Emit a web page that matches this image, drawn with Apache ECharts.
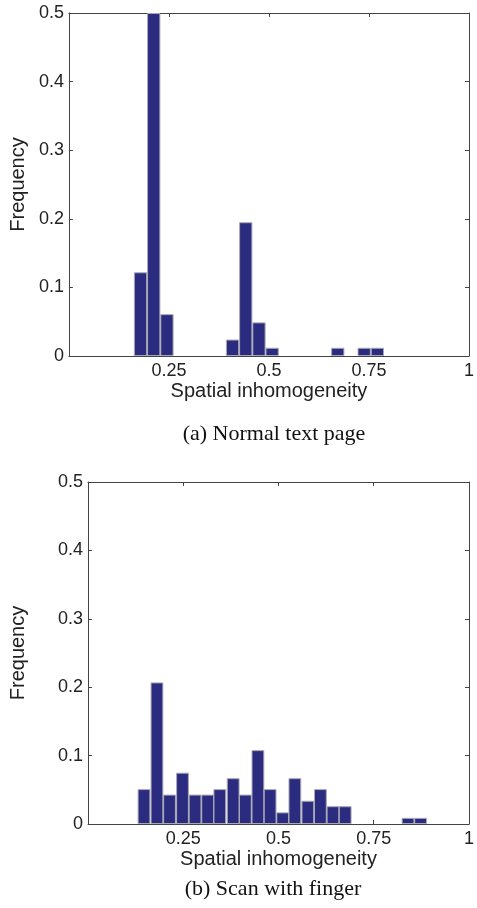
<!DOCTYPE html>
<html>
<head>
<meta charset="utf-8">
<script src="https://cdn.jsdelivr.net/npm/echarts@6/dist/echarts.min.js"></script>
<style>
  html, body { margin: 0; padding: 0; background: #fff; }
  #main { width: 477px; height: 908px; }
</style>
</head>
<body>
<div id="main"></div>
<script>
// (a) Normal text page: bin centres and frequencies
var binsA = [0.179, 0.212, 0.245, 0.409, 0.442, 0.475, 0.508, 0.672, 0.738, 0.771];
var freqA = [0.122, 0.5, 0.061, 0.024, 0.195, 0.049, 0.012, 0.012, 0.012, 0.012];
// (b) Scan with finger
var binsB = [0.147, 0.181, 0.214, 0.248, 0.281, 0.314, 0.346, 0.381, 0.413, 0.446,
  0.478, 0.511, 0.543, 0.577, 0.610, 0.643, 0.675, 0.840, 0.873];
var freqB = [0.051, 0.207, 0.043, 0.075, 0.043, 0.043, 0.051, 0.067, 0.043, 0.108,
  0.051, 0.017, 0.067, 0.034, 0.051, 0.026, 0.026, 0.009, 0.009];
var xTickLabels = ['0.25', '0.5', '0.75', '1'];
var captions = ['(a) Normal text page', '(b) Scan with finger'];

(function () {
  var myChart = echarts.init(document.getElementById('main'));
  var font = 'Liberation Sans, Arial, sans-serif';
  var serif = 'Liberation Serif, Times New Roman, serif';
  var lineColor = '#444';

  function pairs(xs, ys) {
    var out = [];
    for (var i = 0; i < xs.length; i++) out.push([xs[i], ys[i]]);
    return out;
  }

  // bottom axis with labels + top mirror axis (ticks only)
  function xAxes(gi) {
    var base = {
      gridIndex: gi, type: 'value', min: 0, max: 1, interval: 0.25,
      axisLine: { show: true, onZero: false, lineStyle: { color: lineColor, width: 1 } },
      axisTick: { show: true, inside: true, length: 4, lineStyle: { color: lineColor } },
      splitLine: { show: false }
    };
    var bottom = echarts.util.merge({
      position: 'bottom',
      name: 'Spatial inhomogeneity',
      nameLocation: 'middle',
      nameGap: 25,
      nameTextStyle: { fontFamily: font, fontSize: 20, color: '#222' },
      axisLabel: {
        fontFamily: font, fontSize: 18, color: '#222', margin: 6,
        formatter: function (v) {
          var idx = [0.25, 0.5, 0.75, 1].indexOf(v);
          return idx < 0 ? '' : xTickLabels[idx];
        }
      }
    }, base, true);
    var top = echarts.util.merge({ position: 'top', axisLabel: { show: false } }, base, true);
    return [bottom, top];
  }

  function yAxes(gi, gap) {
    var base = {
      gridIndex: gi, type: 'value', min: 0, max: 0.5, interval: 0.1,
      axisLine: { show: true, onZero: false, lineStyle: { color: lineColor, width: 1 } },
      axisTick: { show: true, inside: true, length: 4, lineStyle: { color: lineColor } },
      splitLine: { show: false }
    };
    var left = echarts.util.merge({
      position: 'left',
      name: 'Frequency',
      nameLocation: 'middle',
      nameGap: gap,
      nameTextStyle: { fontFamily: font, fontSize: 20, color: '#222' },
      axisLabel: {
        fontFamily: font, fontSize: 18, color: '#222', margin: 5,
        formatter: function (v) { return v === 0 ? '0' : v.toFixed(1); }
      }
    }, base, true);
    var right = echarts.util.merge({ position: 'right', axisLabel: { show: false } }, base, true);
    return [left, right];
  }

  function barSeries(gi, xs, ys, w) {
    return {
      type: 'bar',
      xAxisIndex: gi * 2,
      yAxisIndex: gi * 2,
      data: pairs(xs, ys),
      barWidth: w,
      itemStyle: { color: '#2b2c80', borderColor: '#a8a8b4', borderWidth: 1 },
      silent: true
    };
  }

  var option = {
    animation: false,
    backgroundColor: '#fff',
    grid: [
      { left: 66, top: 13, width: 406, height: 343 },
      { left: 82, top: 482, width: 390, height: 342 }
    ],
    xAxis: xAxes(0).concat(xAxes(1)),
    yAxis: yAxes(0, 38).concat(yAxes(1, 60)),
    title: [
      { text: captions[0], left: 269, textAlign: 'center', top: 418,
        textStyle: { fontFamily: serif, fontSize: 22, fontWeight: 'normal', color: '#111' } },
      { text: captions[1], left: 268, textAlign: 'center', top: 873,
        textStyle: { fontFamily: serif, fontSize: 22, fontWeight: 'normal', color: '#111' } }
    ],
    series: [
      barSeries(0, binsA, freqA, 13.3),
      barSeries(1, binsB, freqB, 12.8)
    ]
  };
  myChart.setOption(option);
})();
</script>
</body>
</html>
